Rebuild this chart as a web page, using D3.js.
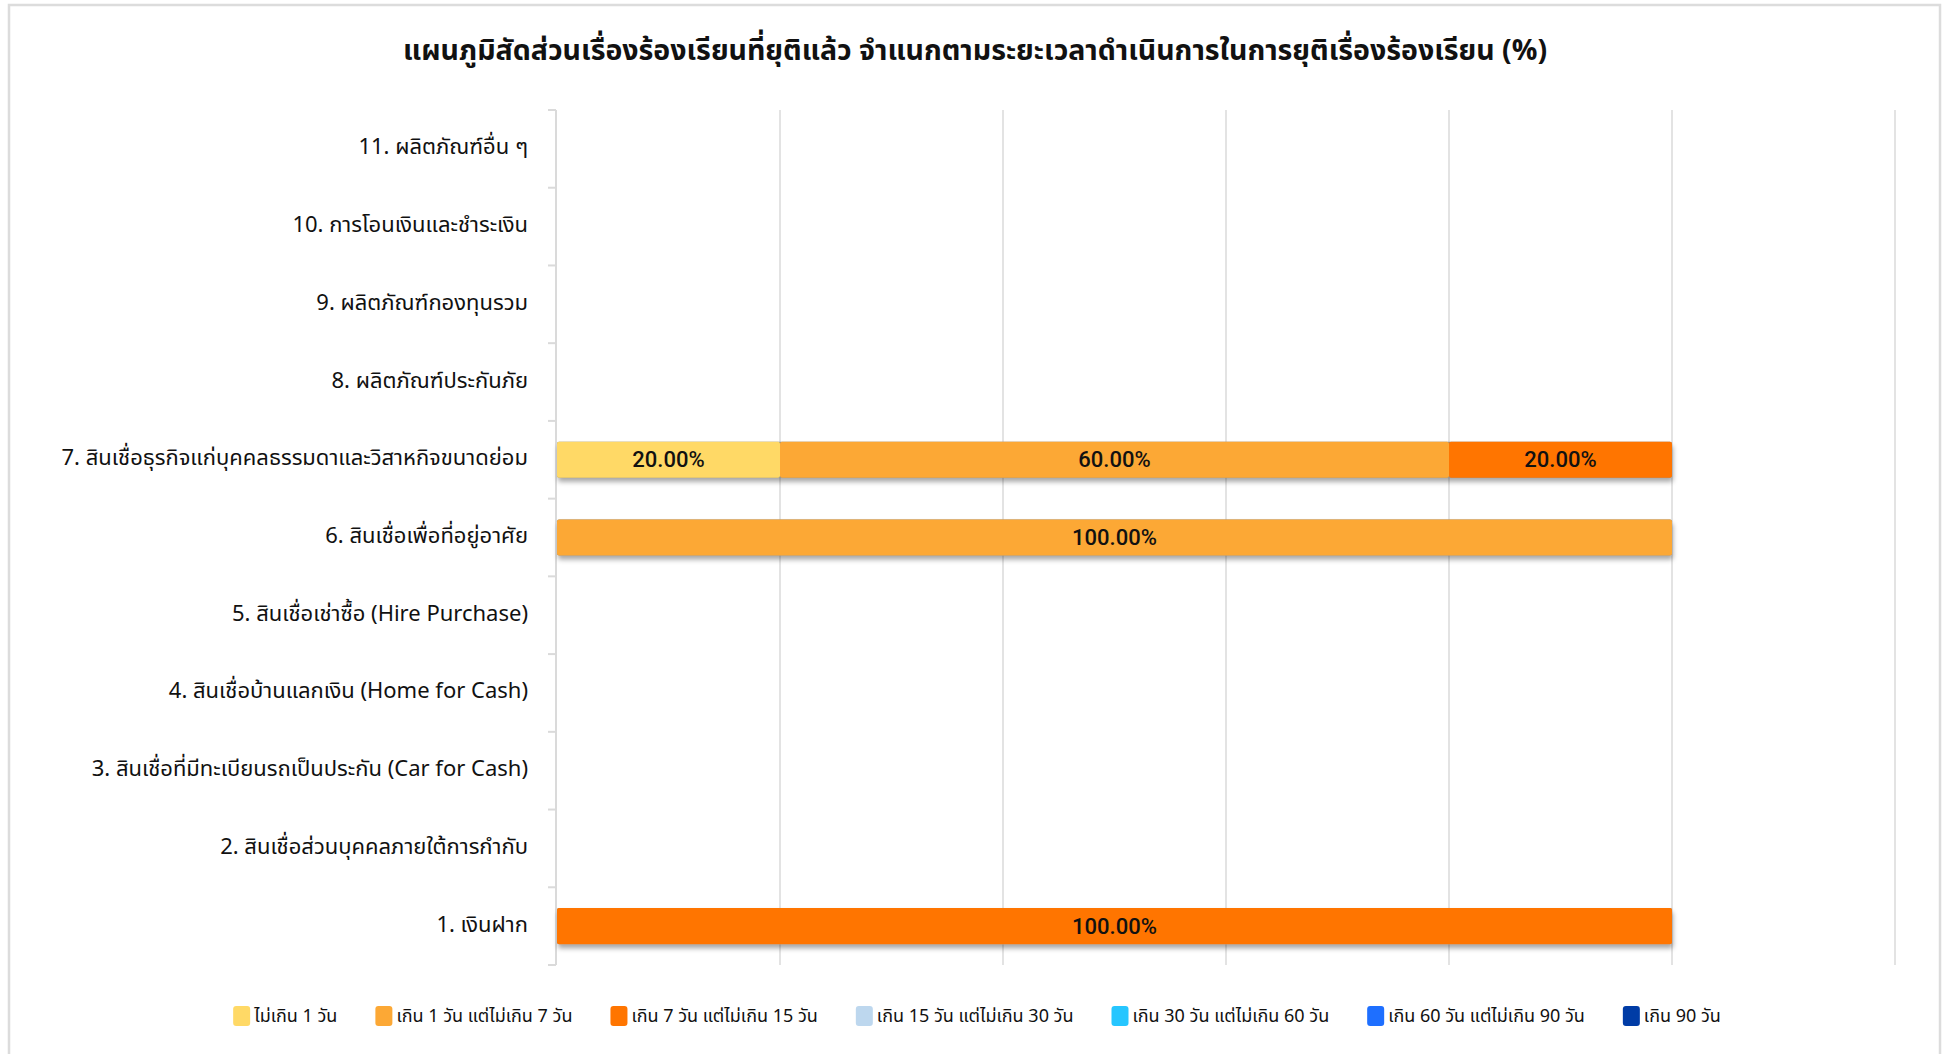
<!DOCTYPE html>
<html><head><meta charset="utf-8">
<script src="https://cdn.jsdelivr.net/npm/d3@7"></script>
<style>
html,body{margin:0;padding:0;background:#fff;}
svg{display:block;}
.thai{font-family:"Noto Sans Thai","Noto Sans Thai UI","Noto Sans","DejaVu Sans",sans-serif;}
</style></head>
<body>
<svg id="c" width="1948" height="1054"></svg>
<script>
const title = "แผนภูมิสัดส่วนเรื่องร้องเรียนที่ยุติแล้ว จำแนกตามระยะเวลาดำเนินการในการยุติเรื่องร้องเรียน (%)";
const categories = [
  "11. ผลิตภัณฑ์อื่น ๆ",
  "10. การโอนเงินและชำระเงิน",
  "9. ผลิตภัณฑ์กองทุนรวม",
  "8. ผลิตภัณฑ์ประกันภัย",
  "7. สินเชื่อธุรกิจแก่บุคคลธรรมดาและวิสาหกิจขนาดย่อม",
  "6. สินเชื่อเพื่อที่อยู่อาศัย",
  "5. สินเชื่อเช่าซื้อ (Hire Purchase)",
  "4. สินเชื่อบ้านแลกเงิน (Home for Cash)",
  "3. สินเชื่อที่มีทะเบียนรถเป็นประกัน (Car for Cash)",
  "2. สินเชื่อส่วนบุคคลภายใต้การกำกับ",
  "1. เงินฝาก"
];
const seriesNames = [
  "ไม่เกิน 1 วัน",
  "เกิน 1 วัน แต่ไม่เกิน 7 วัน",
  "เกิน 7 วัน แต่ไม่เกิน 15 วัน",
  "เกิน 15 วัน แต่ไม่เกิน 30 วัน",
  "เกิน 30 วัน แต่ไม่เกิน 60 วัน",
  "เกิน 60 วัน แต่ไม่เกิน 90 วัน",
  "เกิน 90 วัน"
];
const seriesColors = ["#FFD966","#FCA835","#FF7500","#BDD7EE","#26C6FF","#1E6FFF","#003CA6"];
// values (%) per category, same order as categories
const s1 = [0,0,0,0,20,0,0,0,0,0,0];
const s2 = [0,0,0,0,60,100,0,0,0,0,0];
const s3 = [0,0,0,0,20,0,0,0,0,0,100];
const s4 = [0,0,0,0,0,0,0,0,0,0,0];
const s5 = [0,0,0,0,0,0,0,0,0,0,0];
const s6 = [0,0,0,0,0,0,0,0,0,0,0];
const s7 = [0,0,0,0,0,0,0,0,0,0,0];
const seriesValues = [s1,s2,s3,s4,s5,s6,s7];
const xTicks = [0,20,40,60,80,100,120];

const svg = d3.select("#c");
const W = 1948, H = 1054;
const m = {left:557, right:W-1895, top:110, bottom:H-965};

// card border
svg.append("rect").attr("x",9).attr("y",5).attr("width",1931).attr("height",1070)
  .attr("fill","#fff").attr("stroke","#dcdcdc").attr("stroke-width",2.5);

const defs = svg.append("defs");
const f = defs.append("filter").attr("id","sh").attr("x","-5%").attr("y","-30%").attr("width","110%").attr("height","180%");
f.append("feDropShadow").attr("dx",1).attr("dy",4).attr("stdDeviation",2.5).attr("flood-color","#000").attr("flood-opacity",0.35);

const x = d3.scaleLinear().domain([0,120]).range([m.left, W-m.right]);
const y = d3.scaleBand().domain(categories).range([m.top, H-m.bottom]).paddingInner(0.535).paddingOuter(0.2675);

// gridlines
svg.append("g").selectAll("line").data(xTicks.slice(1)).join("line")
  .attr("x1",d=>x(d)).attr("x2",d=>x(d)).attr("y1",m.top).attr("y2",H-m.bottom)
  .attr("stroke","#dadada").attr("stroke-width",1.5);

// y axis
const yAxisScale = d3.scaleBand().domain(categories).range([m.top, H-m.bottom]);
const ax = svg.append("g").attr("transform",`translate(${m.left-1},0)`);
ax.append("line").attr("x1",0).attr("x2",0).attr("y1",m.top).attr("y2",H-m.bottom).attr("stroke","#dadada").attr("stroke-width",2);
const tickYs = categories.map(c=>yAxisScale(c)).concat([H-m.bottom]);
ax.selectAll("line.t").data(tickYs).join("line").attr("class","t")
  .attr("x1",-8).attr("x2",0).attr("y1",d=>d).attr("y2",d=>d).attr("stroke","#dadada").attr("stroke-width",2);
ax.selectAll("text").data(categories).join("text")
  .attr("class","thai")
  .attr("x",-28).attr("y",d=>yAxisScale(d)+yAxisScale.bandwidth()/2-1)
  .attr("text-anchor","end").attr("dominant-baseline","central")
  .attr("font-size",22).attr("fill","#111").text(d=>d);

// stacked data
const rows = categories.map((c,i)=>{const o={cat:c}; seriesNames.forEach((s,j)=>o[s]=seriesValues[j][i]); return o;});
const stack = d3.stack().keys(seriesNames)(rows);

const barsG = svg.append("g");
const totals = rows.map(r=>({cat:r.cat,total:d3.sum(seriesNames,s=>r[s])})).filter(d=>d.total>0);
barsG.selectAll("rect.sh").data(totals).join("rect").attr("class","sh")
  .attr("x",x(0)).attr("y",d=>y(d.cat)).attr("width",d=>x(d.total)-x(0)).attr("height",y.bandwidth())
  .attr("rx",2).attr("fill","#888").attr("filter","url(#sh)");

stack.forEach((layer,j)=>{
  barsG.append("g").attr("fill",seriesColors[j]).selectAll("rect")
    .data(layer.filter(d=>d[1]-d[0]>0)).join("rect")
    .attr("x",d=>x(d[0])).attr("y",d=>y(d.data.cat))
    .attr("width",d=>x(d[1])-x(d[0])).attr("height",y.bandwidth()).attr("rx",2);
});
stack.forEach((layer,j)=>{
  barsG.append("g").selectAll("text")
    .data(layer.filter(d=>d[1]-d[0]>0)).join("text")
    .attr("x",d=>(x(d[0])+x(d[1]))/2).attr("y",d=>y(d.data.cat)+y.bandwidth()/2)
    .attr("text-anchor","middle").attr("dominant-baseline","central")
    .attr("font-family","Roboto, Liberation Sans, Arial, sans-serif").attr("font-size",22).attr("font-weight",500)
    .attr("fill","#111").text(d=>(d[1]-d[0]).toFixed(2)+"%");
});

// title
svg.append("text").attr("class","thai").attr("x",975).attr("y",51)
  .attr("text-anchor","middle").attr("dominant-baseline","central")
  .attr("font-size",28.5).attr("font-weight",700).attr("fill","#111").text(title);

// legend
const lg = svg.append("g");
const items = lg.selectAll("g").data(seriesNames).join("g");
items.append("rect").attr("width",17).attr("height",20).attr("rx",3).attr("y",-10)
  .attr("fill",(d,i)=>seriesColors[i]);
items.append("text").attr("class","thai").attr("x",21).attr("y",0).attr("dominant-baseline","central")
  .attr("font-size",18).attr("fill","#111").text(d=>d);
let widths = [];
items.each(function(){widths.push(this.getBBox().width);});
const gap = 38;
const total = d3.sum(widths) + gap*(widths.length-1);
let cx = 977 - total/2;
items.attr("transform",(d,i)=>{const t=`translate(${cx},1016)`; cx += widths[i]+gap; return t;});
</script>
</body></html>
